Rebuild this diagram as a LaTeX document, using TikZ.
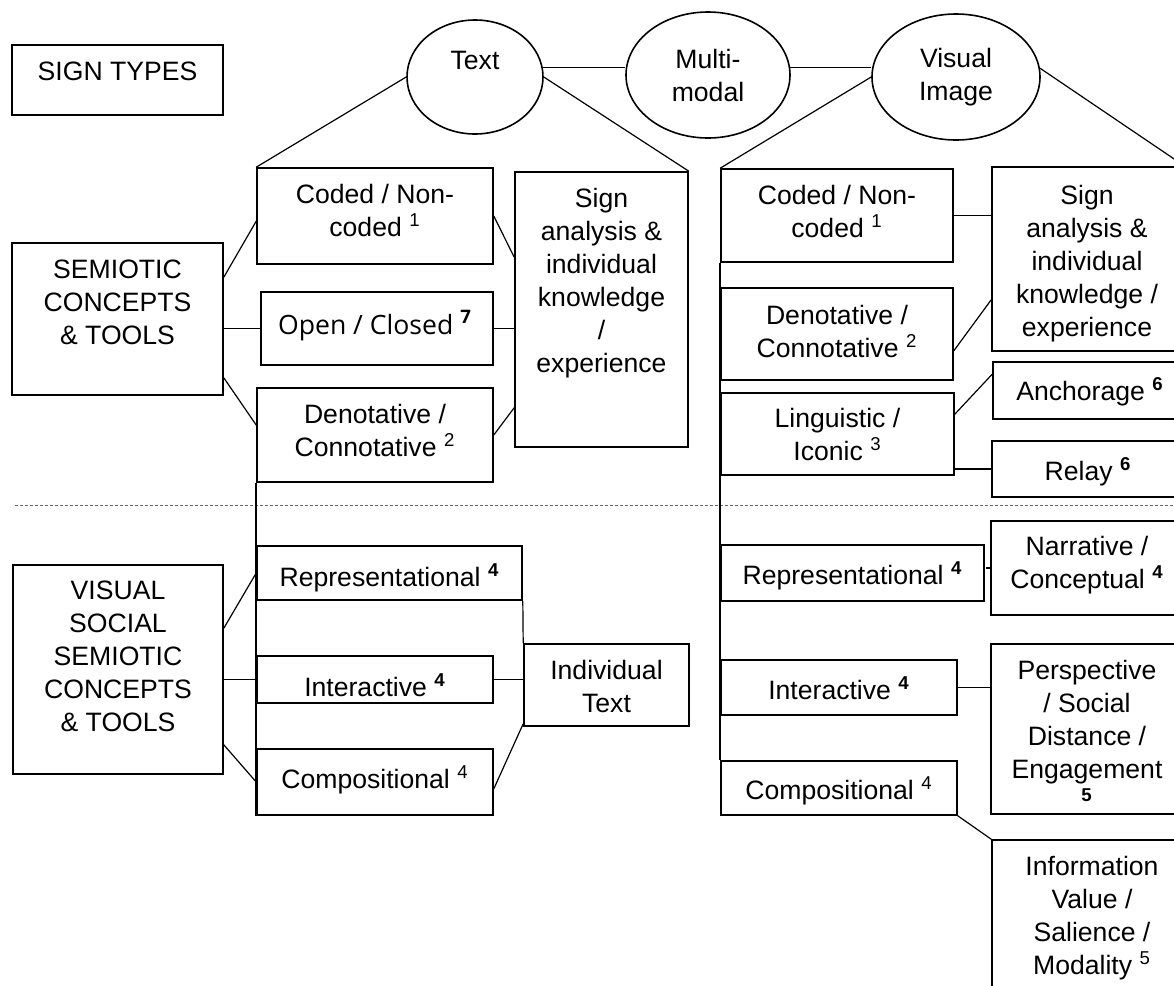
\documentclass[tikz,border=0pt]{standalone}
\usepackage{fontspec}
\setmainfont{Liberation Sans}
\newfontfamily\opensans{Open Sans}
\usetikzlibrary{shapes.geometric}

\begin{document}
\begin{tikzpicture}[x=0.5pt,y=-0.5pt,
  font=\fontsize{13.3}{16.5}\selectfont,
  box/.style 2 args={draw,line width=0.8pt,inner sep=0pt,minimum width=#1*0.5pt,minimum height=#2*0.5pt},
  oval/.style 2 args={draw,ellipse,line width=0.8pt,inner sep=0pt,align=center,minimum width=#1*0.5pt,minimum height=#2*0.5pt},
  lbl/.style={anchor=north,align=center,inner sep=0pt},
  con/.style={line width=0.6pt}]
\useasboundingbox (0,0) rectangle (1174,986);
\clip (0,0) rectangle (1174,986);

% sign types
\node[oval={136}{114}] (txt) at (475,77) {Text\\\mbox{}};
\node[oval={164}{126}] (mm) at (708,75) {Multi-\\modal};
\node[oval={168}{126}] (vis) at (956,77) {Visual\\Image};

% left side boxes
\node[box={211}{70}] (st) at (117.5,80) {};
\node[lbl] (stl) at (117.5,62) {SIGN TYPES};
\node[box={211}{152}] (semc) at (117.5,319) {};
\node[lbl] (semcl) at (117.5,260) {SEMIOTIC\\CONCEPTS\\\& TOOLS};
\node[box={210}{209}] (vss) at (118,669.5) {};
\node[lbl] (vssl) at (118,581) {VISUAL\\SOCIAL\\SEMIOTIC\\CONCEPTS\\\& TOOLS};

% text column
\node[box={236}{96}] (codl) at (375,216) {};
\node[lbl] (codll) at (375,184) {Coded / Non-\\coded \textsuperscript{1}};
\node[box={232}{73}] (opcl) at (377,328.5) {};
\node[lbl,font=\opensans\fontsize{13.3}{16.5}\selectfont] (opcll) at (375,310) {Open / Closed \textsuperscript{\textbf{7}}};
\node[box={236}{94}] (denl) at (375,435) {};
\node[lbl] (denll) at (375,404) {Denotative /\\Connotative \textsuperscript{2}};
\node[box={173}{275}] (sigl) at (601.5,309.5) {};
\node[lbl] (sigll) at (601.5,188) {Sign\\analysis \&\\individual\\knowledge\\/\\experience};
\node[box={265}{54}] (repl) at (389.5,573) {};
\node[lbl] (repll) at (389.5,563) {Representational \textsuperscript{\textbf{4}}};
\node[box={236}{47}] (intl) at (375,679.5) {};
\node[lbl] (intll) at (375,673) {Interactive \textsuperscript{\textbf{4}}};
\node[box={236}{66}] (coml) at (375,782) {};
\node[lbl] (comll) at (375,765) {Compositional \textsuperscript{4}};
\node[box={165}{82}] (indt) at (606.5,685) {};
\node[lbl] (indtl) at (606.5,660) {Individual\\Text};

% image column
\node[box={232}{93}] (codr) at (837,215.5) {};
\node[lbl] (codrl) at (837,185) {Coded / Non-\\coded \textsuperscript{1}};
\node[box={192}{184}] (sigr) at (1088,259) {};
\node[lbl] (sigrl) at (1087,185) {Sign\\analysis \&\\individual\\knowledge /\\experience};
\node[box={232}{92}] (denr) at (837,334) {};
\node[lbl] (denrl) at (837,305) {Denotative /\\Connotative \textsuperscript{2}};
\node[box={233}{82}] (ling) at (837.5,434) {};
\node[lbl] (lingl) at (837.5,408) {Linguistic /\\Iconic \textsuperscript{3}};
\node[box={191}{57}] (anch) at (1088.5,390.5) {};
\node[lbl] (anchl) at (1090,377) {Anchorage \textsuperscript{\textbf{6}}};
\node[box={192}{56}] (rely) at (1088,469) {};
\node[lbl] (relyl) at (1088,457) {Relay \textsuperscript{\textbf{6}}};
\node[box={263}{56}] (repr) at (852.5,573) {};
\node[lbl] (reprl) at (852.5,561) {Representational \textsuperscript{\textbf{4}}};
\node[box={193}{94}] (narr) at (1087.5,568) {};
\node[lbl] (narrl) at (1087,536) {Narrative /\\Conceptual \textsuperscript{\textbf{4}}};
\node[box={236}{55}] (intr) at (839,687.5) {};
\node[lbl] (intrl) at (839,676) {Interactive \textsuperscript{\textbf{4}}};
\node[box={193}{170}] (persp) at (1087.5,729) {};
\node[lbl] (perspl) at (1087,660) {Perspective\\/ Social\\Distance /\\Engagement\\\textsuperscript{\textbf{5}}};
\node[box={236}{54}] (comr) at (839,788) {};
\node[lbl] (comrl) at (839,776) {Compositional \textsuperscript{4}};
\node[box={192}{170}] (info) at (1088,925) {};
\node[lbl] (infol) at (1092,856) {Information\\Value /\\Salience /\\Modality \textsuperscript{5}};

% dividing line
\draw[black!60,line width=0.5pt,dash pattern=on 1.5pt off 1pt] (15,505) -- (1174,505);

% trunks
\draw[line width=0.8pt] (denl.south west) -- (coml.south west);
\draw[line width=0.8pt] (codr.south west) -- (comr.north west);

% from the ovals
\draw[con] (txt.8) -- (txt.8 -| mm.west);
\draw[con] (mm.5) -- (mm.5 -| vis.west);
\draw[con] (txt.west) -- (codl.north west);
\draw[con] (txt.east) -- (sigl.north east);
\draw[con] (vis.west) -- (codr.north west);
\draw[con] (vis.6) -- (sigr.north east);

% text side
\draw[con] ([shift={(0,35)}]semc.north east) -- ([shift={(0,54)}]codl.north west);
\draw[con] (opcl.west -| semc.east) -- (opcl.west);
\draw[con] ([shift={(0,-18)}]semc.south east) -- ([shift={(0,-10)}]denl.west);
\draw[con] (codl.east) -- ([shift={(0,86)}]sigl.north west);
\draw[con] (opcl.east) -- (opcl.east -| sigl.west);
\draw[con] (denl.east) -- ([shift={(0,-40)}]sigl.south west);
\draw[con] ([shift={(0,64)}]vss.north east) -- (repl.west);
\draw[con] (intl.west -| vss.east) -- (intl.west);
\draw[con] ([shift={(0,-30)}]vss.south east) -- (coml.west);
\draw[con] (repl.south east) -- (indt.north west);
\draw[con] (intl.east) -- (intl.east -| indt.west);
\draw[con] ([shift={(0,-27)}]coml.south east) -- ([shift={(0,-3)}]indt.south west);

% image side
\draw[con] (codr.east) -- (codr.east -| sigr.west);
\draw[con] ([shift={(0,-30)}]denr.south east) -- ([shift={(0,-52)}]sigr.south west);
\draw[con] ([shift={(0,22)}]ling.north east) -- ([shift={(0,13)}]anch.north west);
\draw[con] (rely.west -| ling.east) -- (rely.west);
\draw[con] (narr.west) -- ++(-4,0);
\draw[con] (intr.east) -- (intr.east -| persp.west);
\draw[con] (comr.south east) -- (info.north west);
\end{tikzpicture}
\end{document}
